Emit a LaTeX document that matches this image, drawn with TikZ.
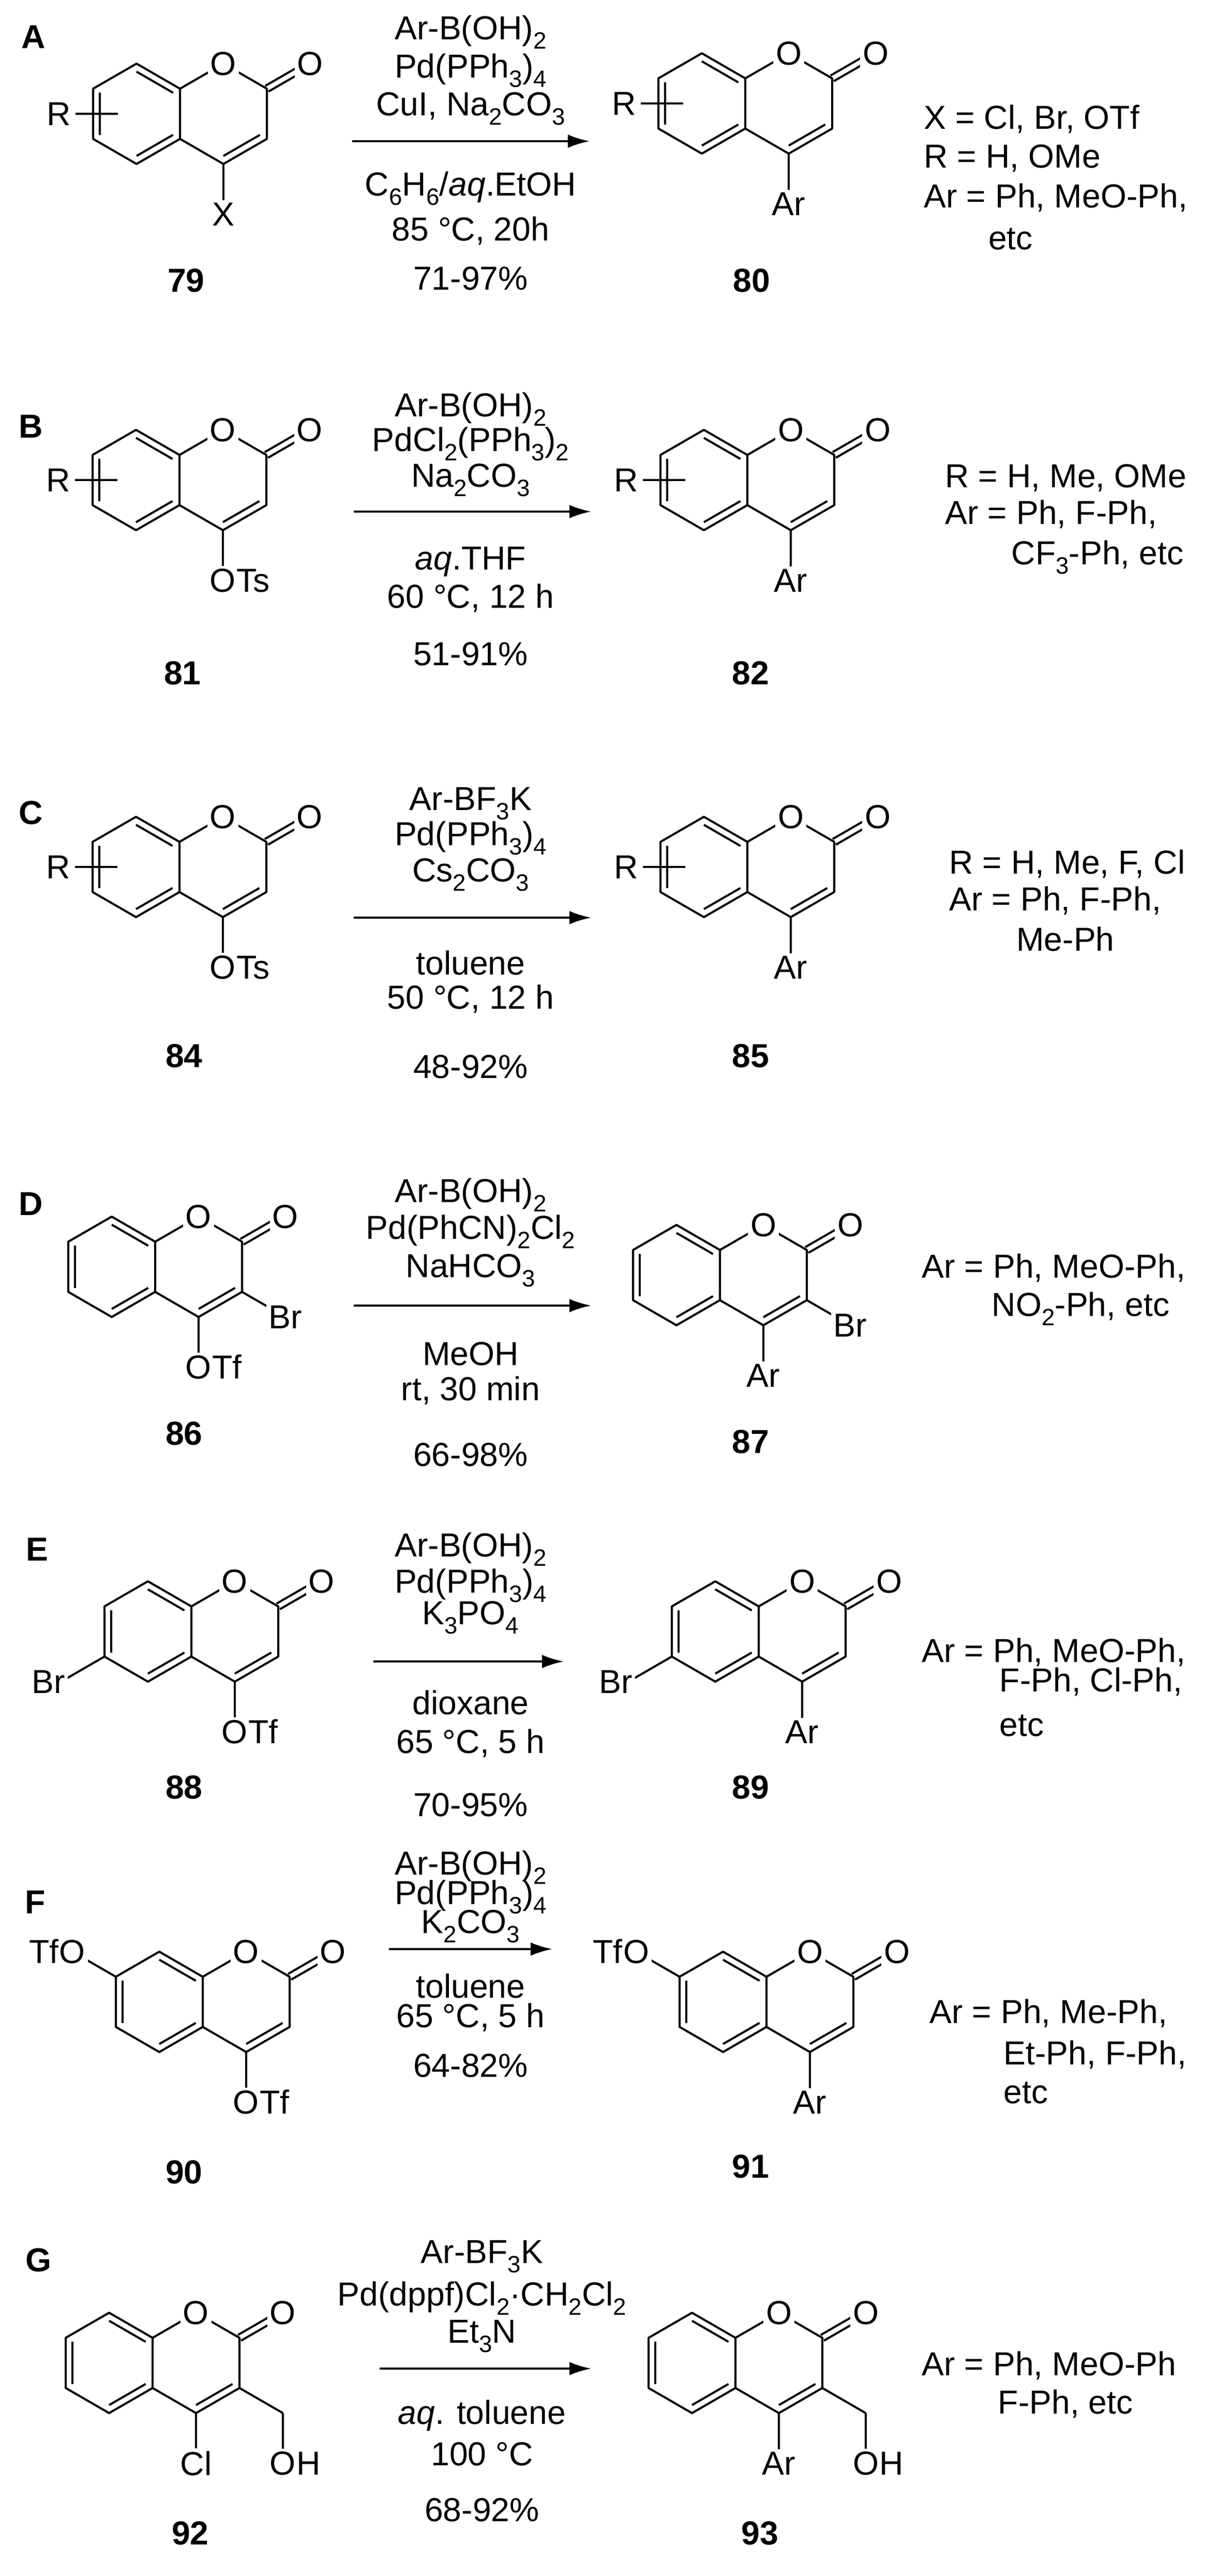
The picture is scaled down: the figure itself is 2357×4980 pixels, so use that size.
\documentclass[tikz,border=0pt]{standalone}
\usepackage{fontspec}
\setmainfont{Liberation Sans}
\usetikzlibrary{calc,arrows.meta}
\newcommand\sub[1]{\raisebox{-0.28em}{\fontsize{13}{14}\selectfont #1}}
\newcommand\coum[3]{%
\begin{scope}[shift={(#1,#2)}]
\coordinate (#3c8) at (0,-97);
\coordinate (#3c8a) at (84,-48.5);
\coordinate (#3c4a) at (84,48.5);
\coordinate (#3c5) at (0,97);
\coordinate (#3c6) at (-84,48.5);
\coordinate (#3c7) at (-84,-48.5);
\coordinate (#3o1) at (168,-97);
\coordinate (#3c2) at (252,-48.5);
\coordinate (#3c3) at (252,48.5);
\coordinate (#3c4) at (168,97);
\coordinate (#3bc) at (0,0);
\coordinate (#3pc) at (168,0);
\coordinate (#3ox) at (336,-97);
\end{scope}
\draw[bond] (#3c8)--(#3c8a)--(#3c4a)--(#3c5)--(#3c6)--(#3c7)--cycle;
\draw[bond] (#3c8a)--(#3o1)--(#3c2)--(#3c3)--(#3c4)--(#3c4a);
\draw[bond] ($(#3c7)!0.16!(#3bc)$)--($(#3c6)!0.16!(#3bc)$);
\draw[bond] ($(#3c8)!0.16!(#3bc)$)--($(#3c8a)!0.16!(#3bc)$);
\draw[bond] ($(#3c4a)!0.16!(#3bc)$)--($(#3c5)!0.16!(#3bc)$);
\draw[bond] ($(#3c3)!0.16!(#3pc)$)--($(#3c4)!0.16!(#3pc)$);
\draw[bond] ($(#3c2)!0.065!90:(#3ox)$)--($(#3ox)!0.065!-90:(#3c2)$);
\draw[bond] ($(#3c2)!0.065!-90:(#3ox)$)--($(#3ox)!0.065!90:(#3c2)$);
\node[atom] (#3O1) at (#3o1) {O};
\node[atom] (#3Ox) at (#3ox) {O};
}
% R substituent on benzo ring
\newcommand\rsub[1]{%
\draw[bond] ($(#1bc)+(-118,0)$) coordinate (#1ra) -- ($(#1bc)+(-36,0)$) coordinate (#1rb);
\node (#1R) at ($(#1bc)+(-150,0)$) {R};
}
% substituent: prefix, from, vector, name
\newcommand\vsub[4]{%
\draw[bond] (#1#2) -- ++(#3) coordinate (#1#4);
}
\begin{document}
\begin{tikzpicture}[x=0.1mm,y=-0.1mm,
  bond/.style={line width=0.4mm,line join=round},
  atom/.style={fill=white,inner sep=1.5pt},
  every node/.append style={font=\fontsize{18.3}{22}\selectfont},
  cmpd/.style={font=\fontsize{18.3}{22}\selectfont\bfseries},
  side/.style={anchor=west,inner sep=0},
  rxn/.style={line width=0.4mm,-{Latex[length=4.2mm,width=2.6mm]}}]
\useasboundingbox[fill=white] (0,0) rectangle (2357,4980);

% ---------------- A
\node[cmpd] (labA) at (65,71) {A};
\coum{264}{220}{a}
\rsub{a}
\vsub{a}{c4}{0,97}{sx}
\node[atom] (aX) at (asx) {X};
\coum{1357}{200}{b}
\rsub{b}
\vsub{b}{c4}{0,97}{sx}
\node[atom] (bAr) at (bsx) {Ar};
\node[cmpd] (n79) at (360,542) {79};
\node[cmpd] (n80) at (1453,542) {80};
\node (rA1) at (910,62) {Ar-B(OH)\sub{2}};
\node (rA2) at (910,136) {Pd(PPh\sub{3})\sub{4}};
\node (rA3) at (910,210) {CuI, Na\sub{2}CO\sub{3}};
\coordinate (arA1) at (681,273); \coordinate (arA2) at (1140,273);
\draw[rxn] (arA1)--(arA2);
\node (rA4) at (910,364) {C\sub{6}H\sub{6}/\textit{aq}.EtOH};
\node (rA5) at (910,446) {85 °C, 20h};
\node (rA6) at (910,538) {71-97\%};
\node[side] (sA1) at (1786,230) {X = Cl, Br, OTf};
\node[side] (sA2) at (1786,306) {R = H, OMe};
\node[side] (sA3) at (1786,382) {Ar = Ph, MeO-Ph,};
\node (sA4) at (1954,462) {etc};

% ---------------- B
\node[cmpd] (labB) at (60,824) {B};
\coum{263}{928}{c}
\rsub{c}
\vsub{c}{c4}{0,97}{sx}
\node[atom] (cO) at (csx) {O};
\node[anchor=base west,inner sep=0,xshift=-1.5pt] (cTs) at (cO.base east) {Ts};
\coum{1361}{928}{d}
\rsub{d}
\vsub{d}{c4}{0,97}{sx}
\node[atom] (dAr) at (dsx) {Ar};
\node[cmpd] (n81) at (353,1301) {81};
\node[cmpd] (n82) at (1451,1301) {82};
\node (rB1) at (910,791) {Ar-B(OH)\sub{2}};
\node (rB2) at (910,858) {PdCl\sub{2}(PPh\sub{3})\sub{2}};
\node (rB3) at (910,928) {Na\sub{2}CO\sub{3}};
\coordinate (arB1) at (684,989); \coordinate (arB2) at (1143,989);
\draw[rxn] (arB1)--(arB2);
\node (rB4) at (910,1086) {\textit{aq}.THF};
\node (rB5) at (910,1156) {60 °C, 12 h};
\node (rB6) at (910,1264) {51-91\%};
\node[side] (sB1) at (1827,924) {R = H, Me, OMe};
\node[side] (sB2) at (1827,994) {Ar = Ph, F-Ph,};
\node[side] (sB3) at (1955,1077) {CF\sub{3}-Ph, etc};

% ---------------- C
\node[cmpd] (labC) at (60,1571) {C};
\coum{263}{1676}{e}
\rsub{e}
\vsub{e}{c4}{0,97}{sx}
\node[atom] (eO) at (esx) {O};
\node[anchor=base west,inner sep=0,xshift=-1.5pt] (eTs) at (eO.base east) {Ts};
\coum{1361}{1676}{f}
\rsub{f}
\vsub{f}{c4}{0,97}{sx}
\node[atom] (fAr) at (fsx) {Ar};
\node[cmpd] (n84) at (356,2041) {84};
\node[cmpd] (n85) at (1451,2041) {85};
\node (rC1) at (910,1554) {Ar-BF\sub{3}K};
\node (rC2) at (910,1620) {Pd(PPh\sub{3})\sub{4}};
\node (rC3) at (910,1691) {Cs\sub{2}CO\sub{3}};
\coordinate (arC1) at (684,1774); \coordinate (arC2) at (1143,1774);
\draw[rxn] (arC1)--(arC2);
\node (rC4) at (910,1861) {toluene};
\node (rC5) at (910,1931) {50 °C, 12 h};
\node (rC6) at (910,2062) {48-92\%};
\node[side] (sC1) at (1835,1670) {R = H, Me, F, Cl};
\node[side] (sC2) at (1835,1741) {Ar = Ph, F-Ph,};
\node (sC3) at (2060,1815) {Me-Ph};

% ---------------- D
\node[cmpd] (labD) at (60,2327) {D};
\coum{216}{2449}{g}
\vsub{g}{c3}{84,48.5}{sb}
\node[atom] (gBr) at (gsb) {Br};
\vsub{g}{c4}{0,97}{sx}
\node[atom] (gO) at (gsx) {O};
\node[anchor=base west,inner sep=0,xshift=-1.5pt] (gTf) at (gO.base east) {Tf};
\coum{1308}{2465}{h}
\vsub{h}{c3}{84,48.5}{sb}
\node[atom] (hBr) at (hsb) {Br};
\vsub{h}{c4}{0,97}{sx}
\node[atom] (hAr) at (hsx) {Ar};
\node[cmpd] (n86) at (356,2771) {86};
\node[cmpd] (n87) at (1451,2787) {87};
\node (rD1) at (910,2310) {Ar-B(OH)\sub{2}};
\node (rD2) at (910,2381) {Pd(PhCN)\sub{2}Cl\sub{2}};
\node (rD3) at (910,2456) {NaHCO\sub{3}};
\coordinate (arD1) at (684,2524); \coordinate (arD2) at (1143,2524);
\draw[rxn] (arD1)--(arD2);
\node (rD4) at (910,2617) {MeOH};
\node (rD5) at (910,2688) {rt, 30 min};
\node (rD6) at (910,2812) {66-98\%};
\node[side] (sD1) at (1782,2451) {Ar = Ph, MeO-Ph,};
\node[side] (sD2) at (1917,2530) {NO\sub{2}-Ph, etc};

% ---------------- E
\node[cmpd] (labE) at (72,2995) {E};
\coum{286}{3154}{i}
\vsub{i}{c6}{-84,48.5}{sb}
\node[atom,anchor=east] (iBr) at ($(isb)+(14,0)$) {Br};
\vsub{i}{c4}{0,97}{sx}
\node[atom] (iO) at (isx) {O};
\node[anchor=base west,inner sep=0,xshift=-1.5pt] (iTf) at (iO.base east) {Tf};
\coum{1383}{3154}{j}
\vsub{j}{c6}{-84,48.5}{sb}
\node[atom,anchor=east] (jBr) at ($(jsb)+(14,0)$) {Br};
\vsub{j}{c4}{0,97}{sx}
\node[atom] (jAr) at (jsx) {Ar};
\node[cmpd] (n88) at (356,3455) {88};
\node[cmpd] (n89) at (1451,3455) {89};
\node (rE1) at (910,2995) {Ar-B(OH)\sub{2}};
\node (rE2) at (910,3065) {Pd(PPh\sub{3})\sub{4}};
\node (rE3) at (910,3127) {K\sub{3}PO\sub{4}};
\coordinate (arE1) at (722,3212); \coordinate (arE2) at (1090,3212);
\draw[rxn] (arE1)--(arE2);
\node (rE4) at (910,3291) {dioxane};
\node (rE5) at (910,3370) {65 °C, 5 h};
\node (rE6) at (910,3489) {70-95\%};
\node[side] (sE1) at (1782,3194) {Ar = Ph, MeO-Ph,};
\node[side] (sE2) at (1932,3251) {F-Ph, Cl-Ph,};
\node[side] (sE3) at (1932,3336) {etc};

% ---------------- F
\node[cmpd] (labF) at (68,3677) {F};
\coum{308}{3870}{k}
\vsub{k}{c7}{-84,-48.5}{sa}
\node[atom] (kO7) at (ksa) {O};
\node[anchor=base east,inner sep=0,xshift=1.5pt] (kTf7) at (kO7.base west) {Tf};
\vsub{k}{c4}{0,97}{sx}
\node[atom] (kO) at (ksx) {O};
\node[anchor=base west,inner sep=0,xshift=-1.5pt] (kTf) at (kO.base east) {Tf};
\coum{1398}{3870}{l}
\vsub{l}{c7}{-84,-48.5}{sa}
\node[atom] (lO7) at (lsa) {O};
\node[anchor=base east,inner sep=0,xshift=1.5pt] (lTf7) at (lO7.base west) {Tf};
\vsub{l}{c4}{0,97}{sx}
\node[atom] (lAr) at (lsx) {Ar};
\node[cmpd] (n90) at (356,4199) {90};
\node[cmpd] (n91) at (1451,4188) {91};
\node (rF1) at (910,3610) {Ar-B(OH)\sub{2}};
\node (rF2) at (910,3667) {Pd(PPh\sub{3})\sub{4}};
\node (rF3) at (910,3724) {K\sub{2}CO\sub{3}};
\coordinate (arF1) at (752,3768); \coordinate (arF2) at (1068,3768);
\draw[rxn] (arF1)--(arF2);
\node (rF4) at (910,3839) {toluene};
\node (rF5) at (910,3900) {65 °C, 5 h};
\node (rF6) at (910,3993) {64-82\%};
\node[side] (sF1) at (1797,3892) {Ar = Ph, Me-Ph,};
\node[side] (sF2) at (1940,3972) {Et-Ph, F-Ph,};
\node[side] (sF3) at (1940,4046) {etc};

% ---------------- G
\node[cmpd] (labG) at (75,4369) {G};
\coum{211}{4568}{m}
\vsub{m}{c4}{0,97}{sx}
\node[atom] (mCl) at (msx) {Cl};
\vsub{m}{c3}{84,48.5}{ch}
\vsub{m}{ch}{0,97}{oh}
\node[atom] (mO) at (moh) {O};
\node[anchor=base west,inner sep=0,xshift=-1.5pt] (mH) at (mO.base east) {H};
\coum{1338}{4568}{n}
\vsub{n}{c4}{0,97}{sx}
\node[atom] (nAr) at (nsx) {Ar};
\vsub{n}{c3}{84,48.5}{ch}
\vsub{n}{ch}{0,97}{oh}
\node[atom] (nO) at (noh) {O};
\node[anchor=base west,inner sep=0,xshift=-1.5pt] (nH) at (nO.base east) {H};
\node[cmpd] (n92) at (368,4897) {92};
\node[cmpd] (n93) at (1469,4897) {93};
\node (rG1) at (932,4363) {Ar-BF\sub{3}K};
\node (rG2) at (932,4443) {Pd(dppf)Cl\sub{2}·CH\sub{2}Cl\sub{2}};
\node (rG3) at (932,4517) {Et\sub{3}N};
\coordinate (arG1) at (734,4579); \coordinate (arG2) at (1143,4579);
\draw[rxn] (arG1)--(arG2);
\node (rG4) at (932,4670) {\textit{aq}. toluene};
\node (rG5) at (932,4744) {100 °C};
\node (rG6) at (932,4852) {68-92\%};
\node[side] (sG1) at (1782,4573) {Ar = Ph, MeO-Ph};
\node[side] (sG2) at (1929,4647) {F-Ph, etc};
\end{tikzpicture}
\end{document}
